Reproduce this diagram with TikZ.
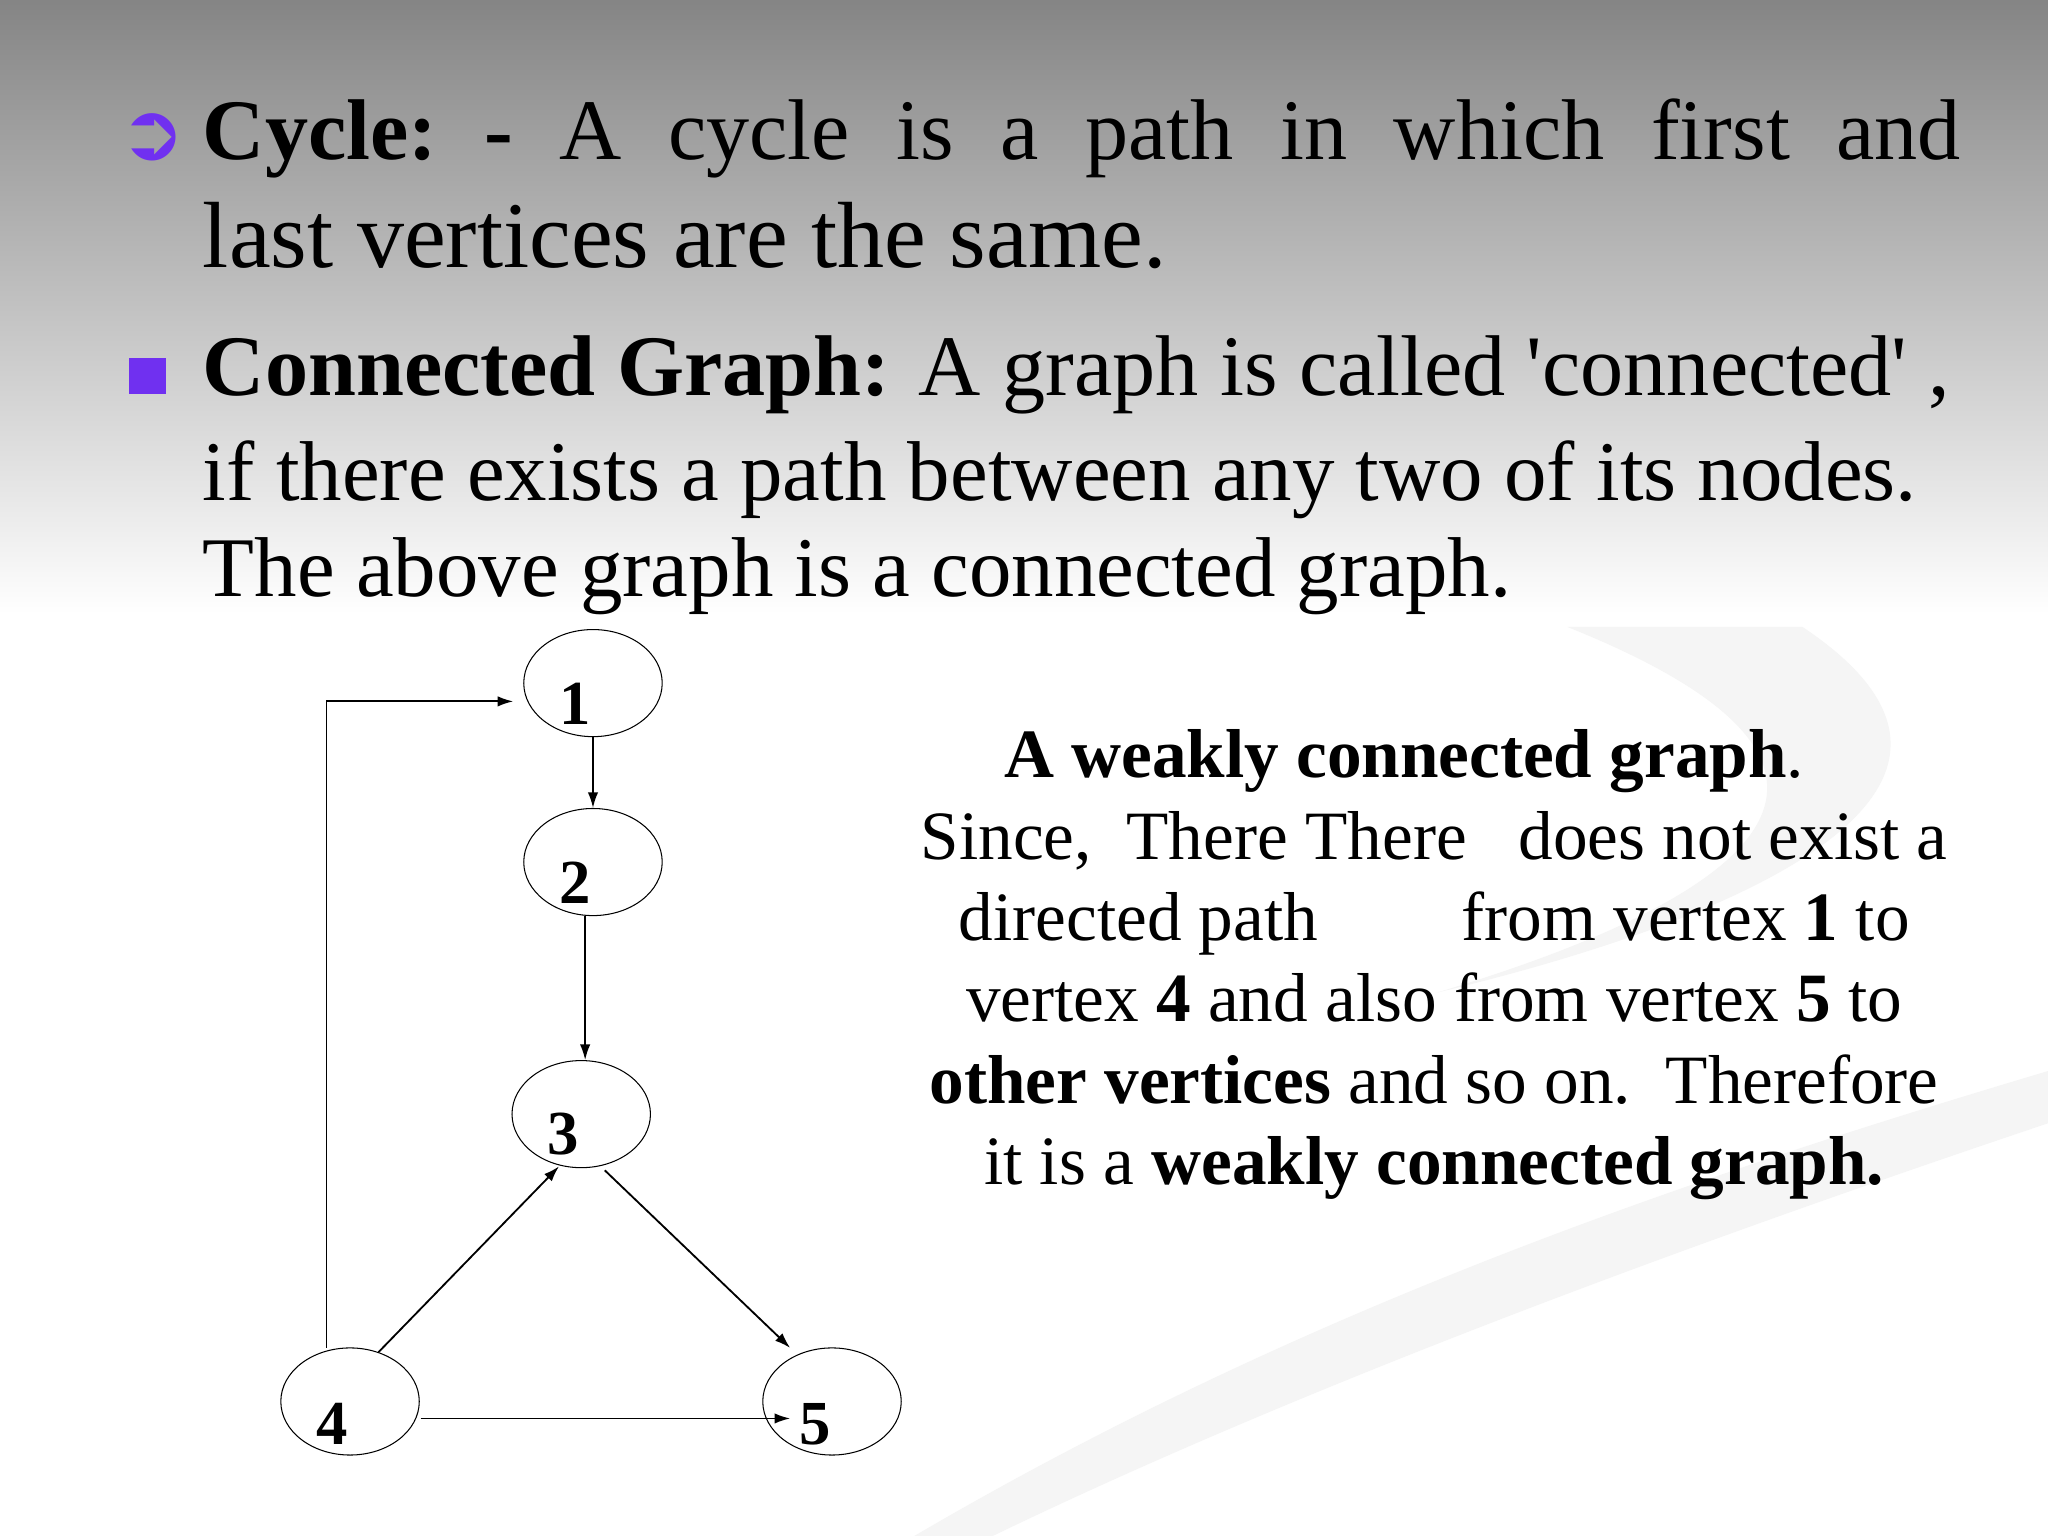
\documentclass[tikz,border=0pt]{standalone}
\usepackage{fontspec}
\setmainfont{Liberation Serif}
\usetikzlibrary{arrows.meta,shapes.geometric}
\definecolor{bul}{RGB}{112,48,240}
\begin{document}
\begin{tikzpicture}[x=0.5pt,y=-0.5pt,
  vert/.style={draw,ellipse,minimum width=53pt,minimum height=41pt,inner sep=0pt},
  vlab/.style={font=\fontsize{24}{24}\selectfont\bfseries,anchor=base},
  edge/.style={-{Latex[length=6pt,width=4pt]},line width=0.7pt},
  main/.style={anchor=base west,inner sep=0pt,font=\fontsize{31}{31}\selectfont},
  side/.style={anchor=base,inner sep=0pt,font=\fontsize{26.5}{26.5}\selectfont}]
\useasboundingbox (0,0) rectangle (1568,1176);
\fill[white] (0,0) rectangle (1568,1176);
\shade[top color=black!48,bottom color=white] (0,0) rectangle (1568,470);
% faint swooshes
\fill[black!4] (700,1176) .. controls (1000,1000) and (1300,900) .. (1568,820) -- (1568,860) .. controls (1300,950) and (1000,1060) .. (760,1176) -- cycle;
\fill[black!4] (1200,480) .. controls (1500,600) and (1300,700) .. (1100,760) .. controls (1350,700) and (1560,600) .. (1380,480) -- cycle;
% bullets
\node[text=bul,font=\fontsize{30}{30}\selectfont\bfseries] (b1) at (117,105) {\fontspec{DejaVu Sans}➲};
\fill[bul] (99,274) rectangle (127,302);
\node[main,font=\fontsize{33}{33}\selectfont] (t1) at (155,122) {\hbox to 673pt{\textbf{Cycle:}\hfill\textbf{-}\hfill A\hfill cycle\hfill is\hfill a\hfill path\hfill in\hfill which\hfill first\hfill and}};
\node[main,font=\fontsize{36}{36}\selectfont] (t2) at (155,205) {last vertices are the same.};
\node[main,font=\fontsize{33}{33}\selectfont] (t3) at (155,303) {\textbf{Connected Graph:} A graph is called \textquotesingle connected\textquotesingle\ ,};
\node[main,font=\fontsize{32.5}{32.5}\selectfont] (t4) at (155,383) {if there exists a path between any two of its nodes.};
\node[main,font=\fontsize{32.5}{32.5}\selectfont] (t5) at (155,457) {The above graph is a connected graph.};
% graph
\node[vert] (v1) at (454,523) {};
\node[vert] (v2) at (454,660) {};
\node[vert] (v3) at (445,853) {};
\node[vert] (v4) at (268,1073) {};
\node[vert] (v5) at (637,1073) {};
\node[vlab] (l1) at (440,555) {1};
\node[vlab] (l2) at (440,692) {2};
\node[vlab] (l3) at (431,884) {3};
\node[vlab] (l4) at (254,1106) {4};
\node[vlab] (l5) at (624,1106) {5};
\draw[edge] (v1.south) -- (v2.north);
\draw[edge] ([xshift=-3pt]v2.south) -- ([xshift=1.5pt]v3.north);
\coordinate (c1) at (250,537);
\draw[edge] (250,1032) -- (c1) -- (393,537);
\draw[edge] (v4.60) -- (428,893);
\draw[edge] (463,896) -- (605,1032);
\draw[edge] (322,1086) -- (605,1086);
% side text
\node[side] (s1) at (1075,595) {\textbf{A weakly connected graph}.};
\node[side] (s2) at (1098,658) {Since,\ \ There There\ \ \ does not exist a};
\node[side] (s3) at (1098,720) {directed path\hspace{55pt}from vertex \textbf{1} to};
\node[side] (s4) at (1098,782) {vertex \textbf{4} and also from vertex \textbf{5} to};
\node[side] (s5) at (1098,845) {\textbf{other vertices} and so on.\ \ Therefore};
\node[side] (s6) at (1098,907) {it is a \textbf{weakly connected graph.}};
\end{tikzpicture}
\end{document}
